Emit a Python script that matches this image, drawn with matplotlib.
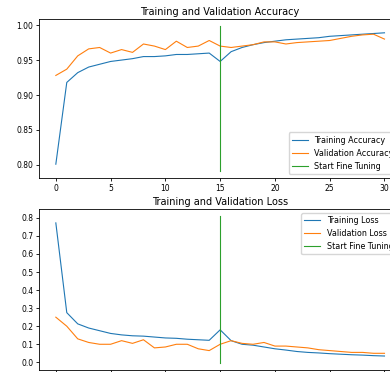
import matplotlib
matplotlib.use("Agg")
import matplotlib.pyplot as plt

epochs = list(range(31))
acc = [0.801, 0.918, 0.932, 0.940, 0.944, 0.948, 0.950, 0.952, 0.955, 0.955,
       0.956, 0.958, 0.958, 0.959, 0.960, 0.948, 0.962, 0.968, 0.972, 0.975,
       0.977, 0.979, 0.980, 0.981, 0.982, 0.984, 0.985, 0.986, 0.987, 0.988, 0.989]
val_acc = [0.928, 0.937, 0.956, 0.966, 0.968, 0.960, 0.965, 0.961, 0.973, 0.970,
           0.965, 0.977, 0.968, 0.970, 0.978, 0.970, 0.968, 0.970, 0.972, 0.976,
           0.976, 0.973, 0.975, 0.976, 0.977, 0.978, 0.981, 0.984, 0.986, 0.987, 0.980]
loss = [0.772, 0.275, 0.213, 0.190, 0.175, 0.160, 0.152, 0.147, 0.145, 0.140,
        0.135, 0.133, 0.128, 0.125, 0.122, 0.180, 0.120, 0.100, 0.095, 0.085,
        0.075, 0.068, 0.060, 0.055, 0.052, 0.048, 0.045, 0.042, 0.040, 0.037, 0.035]
val_loss = [0.250, 0.200, 0.130, 0.110, 0.100, 0.100, 0.120, 0.105, 0.125, 0.080,
            0.085, 0.100, 0.100, 0.075, 0.065, 0.100, 0.120, 0.105, 0.100, 0.110,
            0.090, 0.090, 0.085, 0.080, 0.070, 0.065, 0.060, 0.055, 0.055, 0.050, 0.050]
fine_tune_at = 15

fig = plt.figure(figsize=(3.9, 3.72), dpi=100)

# top panel: accuracy
ax1 = fig.add_axes([0.101, 0.5215, 0.927, 0.4274])
ax1.plot(epochs, acc, lw=0.8, label="Training Accuracy")
ax1.plot(epochs, val_acc, lw=0.8, label="Validation Accuracy")
lim = ax1.get_ylim()
ax1.plot([fine_tune_at, fine_tune_at], lim, lw=0.8, label="Start Fine Tuning")
ax1.legend(loc="lower right", fontsize=5.8)
ax1.set_title("Training and Validation Accuracy", fontsize=7, pad=3)

# bottom panel: loss
ax2 = fig.add_axes([0.101, 0.0054, 0.927, 0.433])
ax2.plot(epochs, loss, lw=0.8, label="Training Loss")
ax2.plot(epochs, val_loss, lw=0.8, label="Validation Loss")
lim = ax2.get_ylim()
ax2.plot([fine_tune_at, fine_tune_at], lim, lw=0.8, label="Start Fine Tuning")
ax2.legend(loc="upper right", fontsize=5.8)
ax2.set_title("Training and Validation Loss", fontsize=7, pad=3)

for ax in (ax1, ax2):
    ax.tick_params(labelsize=5.5, length=2.5, width=0.6, pad=2)
    for s in ax.spines.values():
        s.set_linewidth(0.6)
# x labels of the lower panel fall below the cropped edge, as in the source
ax2.tick_params(axis="x", pad=8)

fig.savefig("out.png", dpi=100)
